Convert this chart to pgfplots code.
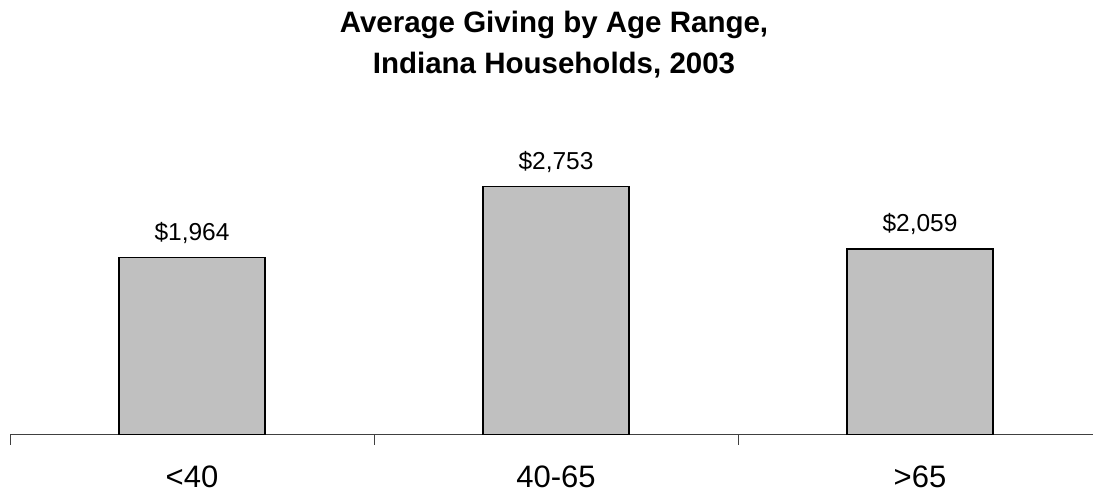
\documentclass[border=0pt]{standalone}
\usepackage{fontspec}
\setmainfont{Liberation Sans}
\usepackage{pgfplots}
\pgfplotsset{compat=1.18}
\definecolor{barfill}{HTML}{C0C0C0}
\begin{document}
\begin{tikzpicture}
\useasboundingbox (0,0) rectangle (1093pt,493pt);
% chart title
\node[anchor=base,font=\fontsize{29.5}{35}\selectfont\bfseries] at (554pt,460pt) {Average Giving by Age Range,};
\node[anchor=base,font=\fontsize{29.5}{35}\selectfont\bfseries] at (554pt,419pt) {Indiana Households, 2003};
\begin{axis}[
  at={(10pt,58.5pt)}, anchor=south west,
  scale only axis,
  width=1092pt, height=333pt,
  xmin=-0.5, xmax=2.5,
  ymin=0, ymax=3700,
  axis x line=bottom,
  axis y line=none,
  axis line style={line width=1pt, black!75, -},
  xtick={-0.5,0.5,1.5,2.5},
  xticklabels={},
  major tick length=10pt,
  tick align=outside,
  tick style={line width=1pt, black!75},
  extra x ticks={0,1,2},
  extra x tick labels={<40,40-65,>65},
  extra x tick style={major tick length=0pt,
    tick label style={font=\fontsize{31}{37}\selectfont, anchor=base, inner sep=0pt, yshift=-52.5pt}},
  ytick=\empty,
  clip=false,
  /pgf/number format/assume math mode=true,
  /pgf/number format/1000 sep={,},
]
\addplot[ybar, bar width=146pt, fill=barfill, draw=black, line width=1.5pt,
  nodes near coords={\$\pgfmathprintnumber{\pgfplotspointmeta}},
  nodes near coords style={font=\fontsize{24.5}{29}\selectfont, anchor=base, yshift=17.5pt, black},
] coordinates {(0,1964) (1,2753) (2,2059)};
\end{axis}
\end{tikzpicture}
\end{document}
